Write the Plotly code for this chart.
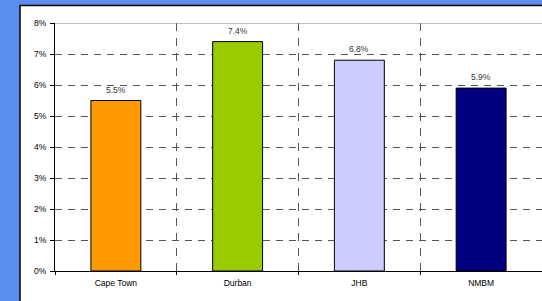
import plotly.graph_objects as go

categories = ["Cape Town", "Durban", "JHB", "NMBM"]
values = [0.055, 0.074, 0.068, 0.059]
bar_colors = ["#FF9900", "#99CC00", "#CCCCFF", "#000080"]
y_ticks = [0, 0.01, 0.02, 0.03, 0.04, 0.05, 0.06, 0.07, 0.08]

W, H = 542, 301
L, R, T, B = 55, 0, 23, 30
pw = W - L - R
ph = H - T - B
FONT = "Liberation Sans, Arial"

fig = go.Figure()
fig.add_trace(go.Bar(
    x=categories, y=values,
    marker=dict(color=bar_colors, line=dict(color="#000000", width=1)),
    hoverinfo="skip",
))

for c, v in zip(categories, values):
    fig.add_annotation(x=c, y=v, text=f"{v*100:.1f}%", showarrow=False,
                       yanchor="bottom", yshift=4,
                       font=dict(family=FONT, size=8.5, color="#333333"))

# white panel with black border over blue background
fig.add_shape(type="rect", xref="paper", yref="paper",
              x0=(20 - L) / pw, x1=(W + 5 - L) / pw,
              y0=-(B + 5) / ph, y1=(H - 5.5 - B) / ph,
              fillcolor="#FFFFFF", line=dict(color="#000000", width=1.5),
              layer="below")
# solid top border of plot area
fig.add_shape(type="line", xref="paper", yref="y",
              x0=0, x1=1, y0=0.08, y1=0.08,
              line=dict(color="#808080", width=1))

fig.update_layout(
    width=W, height=H,
    margin=dict(l=L, r=R, t=T, b=B),
    paper_bgcolor="#5B8DEF",
    plot_bgcolor="rgba(0,0,0,0)",
    showlegend=False,
    bargap=0.59,
    font=dict(family=FONT, size=8.5, color="#000000"),
    xaxis=dict(
        range=[-0.5, 3.5], tickson="boundaries",
        showgrid=True, gridcolor="#555555", griddash="8px,7px", gridwidth=1,
        showline=True, linecolor="#000000", linewidth=1,
        ticks="outside", ticklen=3, tickcolor="#000000",
        tickfont=dict(size=8.5), ticklabelstandoff=4,
    ),
    yaxis=dict(
        range=[0, 0.08], tickvals=y_ticks, tickformat=".0%",
        showgrid=True, gridcolor="#555555", griddash="7px,6px", gridwidth=1,
        zeroline=False,
        showline=True, linecolor="#000000", linewidth=1,
        ticks="outside", ticklen=4, tickcolor="#000000",
        tickfont=dict(size=8.5), ticklabelstandoff=2,
    ),
)

fig.write_html("out.html", config={"displayModeBar": False},
               post_script="document.body.style.margin='0';")
